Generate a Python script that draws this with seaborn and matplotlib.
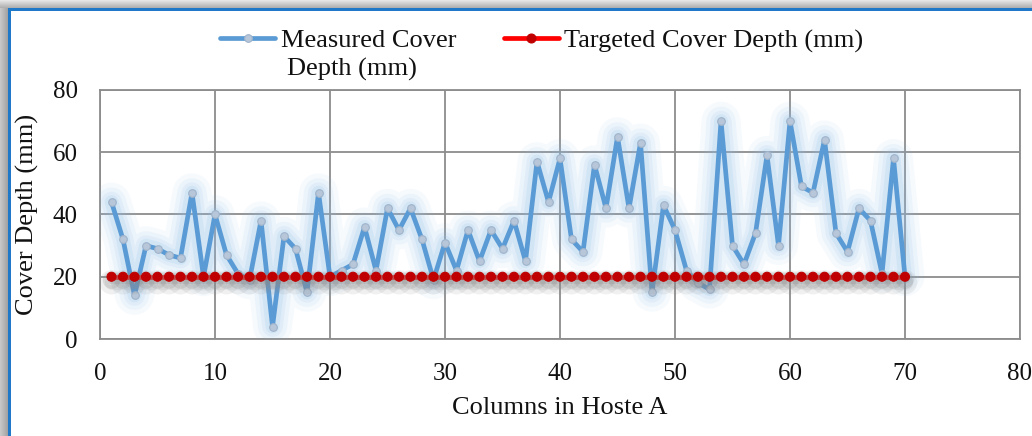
import matplotlib
matplotlib.use("Agg")
import matplotlib.pyplot as plt
import matplotlib.patheffects as pe
from matplotlib.patches import Rectangle
import seaborn as sns
import pandas as pd

columns = list(range(1, 71))
measured = [44, 32, 14, 30, 29, 27, 26, 47, 20, 40,
            27, 21, 19, 38, 4, 33, 29, 15, 47, 20,
            22, 24, 36, 22, 42, 35, 42, 32, 19, 31,
            22, 35, 25, 35, 29, 38, 25, 57, 44, 58,
            32, 28, 56, 42, 65, 42, 63, 15, 43, 35,
            22, 18, 16, 70, 30, 24, 34, 59, 30, 70,
            49, 47, 64, 34, 28, 42, 38, 21, 58, 20]
targeted = [20] * 70

x_ticks = [0, 10, 20, 30, 40, 50, 60, 70, 80]
y_ticks = [0, 20, 40, 60, 80]

sns.set_theme(style="white")
plt.rcParams['font.family'] = ['Liberation Serif', 'DejaVu Serif']

W, H = 1032, 436
fig = plt.figure(figsize=(W / 100, H / 100), dpi=100)
fig.patch.set_facecolor("white")

# frame: shadow gradient + blue border
for i in range(8):
    g = 0.90 - 0.03 * i
    fig.add_artist(Rectangle((0, 1 - (i + 1) / H), 1, 1 / H, transform=fig.transFigure,
                             facecolor=(g, g, g), edgecolor="none", zorder=0))
for i in range(8):
    g = 0.78 - 0.02 * i
    fig.add_artist(Rectangle((i / W, 0), 1 / W, 1 - 8 / H, transform=fig.transFigure,
                             facecolor=(g, g, g), edgecolor="none", zorder=0))
fig.add_artist(Rectangle((8 / W, 1 - 11 / H), 1 - 8 / W, 3 / H, transform=fig.transFigure,
                         facecolor="#1F78C8", edgecolor="none", zorder=1))
fig.add_artist(Rectangle((8 / W, 0), 3 / W, 1 - 8 / H, transform=fig.transFigure,
                         facecolor="#1F78C8", edgecolor="none", zorder=1))

ax = fig.add_axes([100 / W, (H - 339) / H, 920 / W, 249 / H])

df = pd.DataFrame({"col": columns, "measured": measured, "targeted": targeted})

# soft glow under the measured series
for lw, a in [(28, 0.07), (21, 0.09), (15, 0.12), (10, 0.16)]:
    sns.lineplot(data=df, x="col", y="measured", ax=ax, color="#8DBEEA", linewidth=lw,
                 alpha=a, legend=False, zorder=3, solid_capstyle="round", solid_joinstyle="round")

sns.lineplot(data=df, x="col", y="measured", ax=ax, color="#5B9BD5", linewidth=3.4,
             marker="o", markersize=5.5, markerfacecolor="#B7C6D8", markeredgecolor="#9FB3CB",
             markeredgewidth=0.8,
             label="Measured Cover", zorder=5)
sns.lineplot(data=df, x="col", y="targeted", ax=ax, color="#FF0000", linewidth=3.4,
             marker="o", markersize=6.5, markerfacecolor="#C00000", markeredgecolor="#C00000",
             label="Targeted Cover Depth (mm)", zorder=6)

red_line = ax.get_lines()[-1]
red_line.set_path_effects([
    pe.SimpleLineShadow(offset=(0, -4), shadow_color="#8A8A8A", alpha=0.12, linewidth=11),
    pe.SimpleLineShadow(offset=(0, -2.5), shadow_color="#8A8A8A", alpha=0.22, linewidth=6),
    pe.Normal(),
])

ax.set_xlim(0, 80)
ax.set_ylim(0, 80)
ax.set_xticks(x_ticks)
ax.set_yticks(y_ticks)
ax.grid(True, color="#8C8C8C", linewidth=1.3)
ax.set_axisbelow(True)
for s in ax.spines.values():
    s.set_visible(True)
    s.set_color("#8C8C8C")
    s.set_linewidth(1.3)
ax.tick_params(axis="both", length=0, labelsize=18, colors="#111111")
ax.tick_params(axis="y", pad=16)
ax.tick_params(axis="x", pad=17)
ax.set_xlabel("Columns in Hoste A", fontsize=19, color="#111111", labelpad=9)
ax.set_ylabel("Cover Depth (mm)", fontsize=19, color="#111111", labelpad=10)

handles, labels = ax.get_legend_handles_labels()
leg = ax.legend(handles, labels, loc="upper left", bbox_to_anchor=(220 / W, 1 - 29 / H),
                bbox_transform=fig.transFigure,
                ncol=2, frameon=False, fontsize=19, handlelength=2.1, handletextpad=0.2,
                columnspacing=1.8, borderaxespad=0, borderpad=0)
for h in leg.legend_handles:
    h.set_path_effects([])
for t in leg.get_texts():
    t.set_color("#111111")
fig.text(287 / W, 1 - 69 / H, "Depth (mm)", fontsize=19, color="#111111",
         ha="left", va="center")

fig.savefig("out.png", dpi=100, facecolor="white")
